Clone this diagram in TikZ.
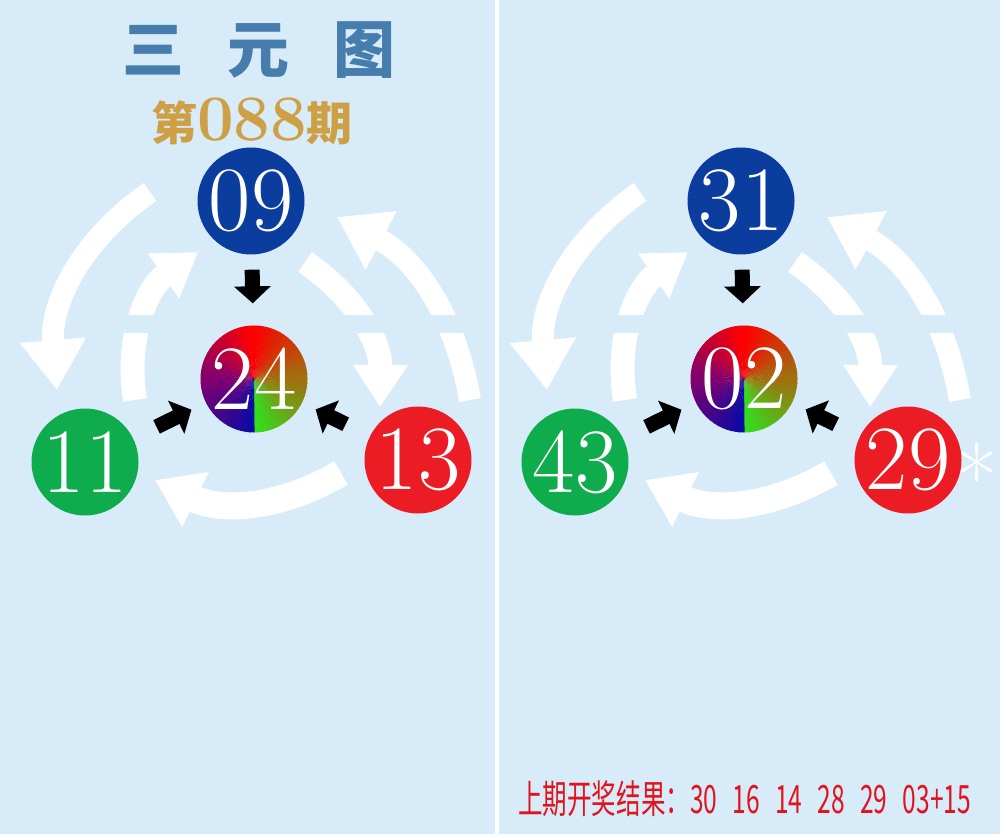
\documentclass[tikz,border=0pt]{standalone}
\usepackage{fontspec}
\newfontfamily\cjk{Noto Sans CJK SC}
\usetikzlibrary{arrows.meta}
\definecolor{bgblue}{RGB}{216,235,249}
\definecolor{ballblue}{RGB}{10,61,158}
\definecolor{ballgreen}{RGB}{14,172,76}
\definecolor{ballred}{RGB}{236,28,36}
\definecolor{titleblue}{RGB}{70,125,172}
\definecolor{gold}{RGB}{205,160,70}
\definecolor{resred}{RGB}{225,20,30}
\definecolor{wg}{RGB}{50,222,30}
\definecolor{wo}{RGB}{160,112,14}
\definecolor{wr}{RGB}{255,0,0}
\definecolor{wp}{RGB}{128,0,110}
\definecolor{wb}{RGB}{10,10,165}
\newcommand\gap{\hspace{0.62em}}
\tikzset{
  ball/.style={circle, inner sep=-2pt, minimum size=107pt, text=white,
    font=\fontsize{92}{92}\selectfont},
  outerarc/.style={white, line width=22pt, -{Triangle[length=50pt,width=63pt]}},
  innerarc/.style={white, line width=24pt, -{Triangle[length=42pt,width=52pt]}},
  blk/.style={black, line width=15pt, -{Triangle[length=17pt,width=36pt]}},
}
\begin{document}
\begin{tikzpicture}[x=1pt, y=1pt]
\useasboundingbox (0,0) rectangle (1000,-834);
\fill[bgblue] (0,0) rectangle (1000,-834);
\fill[white] (495,0) rectangle (499,-834);
% title
\node[anchor=base, text=titleblue, font=\cjk\bfseries\fontsize{62}{62}\selectfont] (title) at (259,-73) {三\hspace{44pt}元\hspace{44pt}图};
\node[anchor=base, text=gold] (issue) at (252,-141) {{\cjk\bfseries\fontsize{46}{46}\selectfont 第}{\bfseries\fontsize{65}{65}\selectfont 088}{\cjk\bfseries\fontsize{46}{46}\selectfont 期}};
% the two panels
\foreach \p/\dx/\nt/\nc/\nl/\nr in {a/0/09/24/11/13, b/490/31/02/43/29}{
\begin{scope}[xshift=\dx pt]
  \coordinate (olt\p) at (150,-192);
  \coordinate (olh\p) at (57,-390);
  \coordinate (ort\p) at (470,-400);
  \coordinate (orh\p) at (337,-217);
  \coordinate (ilt\p) at (135,-400);
  \coordinate (ilh\p) at (198,-252);
  \coordinate (irt\p) at (305,-262);
  \coordinate (irh\p) at (380,-407);
  \coordinate (ibt\p) at (341,-473);
  \coordinate (ibh\p) at (155,-480);
  \draw[outerarc] (olt\p) to[bend right=30] (olh\p);
  \draw[outerarc] (ort\p) to[bend right=26] (orh\p);
  \draw[innerarc] (ilt\p) to[bend left=32] (ilh\p);
  \draw[innerarc] (irt\p) to[bend left=28] (irh\p);
  \draw[innerarc, line width=27pt, -{Triangle[length=45pt,width=58pt]}] (ibt\p) to[bend left=28] (ibh\p);
  \fill[bgblue] (95,-315) rectangle (488,-333);
  % balls
  \node[ball, fill=ballblue] (top\p) at (251,-201) {\nt};
  \node[ball, path picture={
    \foreach \st/\ca/\cb in {-90/wg/wo, 0/wo/wr, 90/wr/wp, 180/wp/wb}
      \foreach \i in {0,...,17}{
        \pgfmathtruncatemacro\pc{\i*100/17}
        \pgfmathsetmacro\an{\st+5*\i}
        \fill[\cb!\pc!\ca] (path picture bounding box.center) -- ++(\an:60pt)
          arc[start angle=\an, end angle=\an+5.6, radius=60pt] -- cycle;
      }
  }] (mid\p) at (254,-379) {\nc};
  \node[ball, fill=ballgreen] (lft\p) at (85,-462) {\nl};
  \node[ball, fill=ballred] (rgt\p) at (418,-460) {\nr};
  \draw[blk, shorten <=15pt, shorten >=22pt] (top\p) -- (mid\p);
  \draw[blk, shorten <=26pt, shorten >=16pt] (lft\p) -- (mid\p);
  \draw[blk, shorten <=27pt, shorten >=15pt] (rgt\p) -- (mid\p);
\end{scope}
}
\node[anchor=base, text=white, font=\fontsize{90}{90}\selectfont] (star) at (977,-510) {*};
% last draw
\node[anchor=base west, text=resred, xscale=0.63, font=\cjk\fontsize{39}{39}\selectfont] (result) at (516,-813) {上期开奖结果：30\gap 16\gap 14\gap 28\gap 29\gap 03+15};
\end{tikzpicture}
\end{document}
